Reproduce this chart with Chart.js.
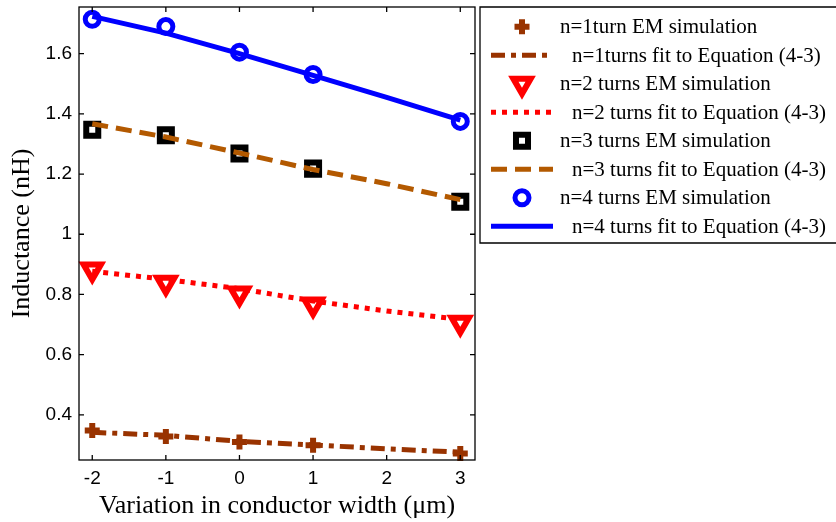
<!DOCTYPE html>
<html>
<head>
<meta charset="utf-8">
<script src="https://cdn.jsdelivr.net/npm/chart.js@4/dist/chart.umd.min.js"></script>
<style>
  html, body { margin: 0; padding: 0; background: #fff; }
</style>
</head>
<body>
<canvas id="chart" width="836" height="522"></canvas>
<script>
// conductor width variation (um)
const simWidths = [-2, -1, 0, 1, 3];
const fitWidths = [-2, -1, 0, 1, 2, 3];

// inductance (nH), EM simulation and fitted curves
const sim1 = [0.348, 0.328, 0.310, 0.299, 0.272];
const fit1 = [0.342, 0.332, 0.312, 0.300, 0.287, 0.276];
const sim2 = [0.883, 0.839, 0.803, 0.767, 0.706];
const fit2 = [0.877, 0.850, 0.819, 0.778, 0.745, 0.717];
const sim3 = [1.347, 1.329, 1.268, 1.218, 1.108];
const fit3 = [1.367, 1.323, 1.270, 1.215, 1.168, 1.115];
const sim4 = [1.714, 1.690, 1.605, 1.531, 1.375];
const fit4 = [1.724, 1.668, 1.600, 1.528, 1.455, 1.379];

const xTicks = [-2, -1, 0, 1, 2, 3];
const yTicks = [0.4, 0.6, 0.8, 1, 1.2, 1.4, 1.6];
const yTickLabels = ['0.4', '0.6', '0.8', '1', '1.2', '1.4', '1.6'];

const legendLabels = [
  'n=1turn EM simulation',
  'n=1turns fit to Equation (4-3)',
  'n=2 turns EM simulation',
  'n=2 turns fit to Equation (4-3)',
  'n=3 turns EM simulation',
  'n=3 turns fit to Equation (4-3)',
  'n=4 turns EM simulation',
  'n=4 turns fit to Equation (4-3)'
];

const BROWN = '#993300';
const ORANGE = '#B35900';
const RED = '#FF0000';
const BLUE = '#0000FF';

function pts(xs, ys) {
  return xs.map((x, i) => ({ x: x, y: ys[i] }));
}

function simSet(label, ys, color, style, radius, width, rotation) {
  return {
    label: label,
    data: pts(simWidths, ys),
    showLine: false,
    pointStyle: style,
    pointRadius: radius,
    pointRotation: rotation || 0,
    pointBorderWidth: width,
    pointBorderColor: color,
    pointBackgroundColor: 'rgba(0,0,0,0)',
    borderColor: color,
    clip: false
  };
}

function fitSet(label, ys, color, dash) {
  return {
    label: label,
    data: pts(fitWidths, ys),
    showLine: true,
    pointRadius: 0,
    borderColor: color,
    borderWidth: 5,
    borderDash: dash,
    borderCapStyle: 'butt',
    tension: 0,
    clip: false
  };
}

const datasets = [
  simSet(legendLabels[0], sim1, BROWN, 'cross', 7.5, 6),
  fitSet(legendLabels[1], fit1, BROWN, [14, 6, 5, 6]),
  simSet(legendLabels[2], sim2, RED, 'triangle', 10, 6, 180),
  fitSet(legendLabels[3], fit2, RED, [5, 6]),
  simSet(legendLabels[4], sim3, '#000000', 'rect', 8.5, 6),
  fitSet(legendLabels[5], fit3, ORANGE, [16, 8]),
  simSet(legendLabels[6], sim4, BLUE, 'circle', 7, 5),
  fitSet(legendLabels[7], fit4, BLUE, [])
];
// later series are painted on top, as in the original figure
datasets.forEach((d, i) => { d.order = datasets.length - i; });

// box round the plot with inward ticks on all four sides
const axesBox = {
  id: 'axesBox',
  afterDatasetsDraw(chart) {
    const { ctx, chartArea: a, scales } = chart;
    ctx.save();
    ctx.strokeStyle = '#000';
    ctx.lineWidth = 1.3;
    ctx.setLineDash([]);
    ctx.strokeRect(a.left, a.top, a.right - a.left, a.bottom - a.top);
    const t = 5;
    ctx.beginPath();
    xTicks.forEach(v => {
      const px = scales.x.getPixelForValue(v);
      ctx.moveTo(px, a.bottom); ctx.lineTo(px, a.bottom - t);
      ctx.moveTo(px, a.top); ctx.lineTo(px, a.top + t);
    });
    yTicks.forEach(v => {
      const py = scales.y.getPixelForValue(v);
      ctx.moveTo(a.left, py); ctx.lineTo(a.left + t, py);
      ctx.moveTo(a.right, py); ctx.lineTo(a.right - t, py);
    });
    ctx.stroke();
    ctx.restore();
  }
};

// legend box to the right of the plot
const sideLegend = {
  id: 'sideLegend',
  afterDraw(chart) {
    const ctx = chart.ctx;
    const boxL = 480, boxT = 7, boxB = 243;
    ctx.save();
    ctx.strokeStyle = '#000';
    ctx.lineWidth = 1.3;
    ctx.beginPath();
    ctx.moveTo(840, boxT); ctx.lineTo(boxL, boxT); ctx.lineTo(boxL, boxB); ctx.lineTo(840, boxB);
    ctx.stroke();

    ctx.font = '21px "Liberation Serif", "Times New Roman", serif';
    ctx.fillStyle = '#000';
    ctx.textBaseline = 'middle';
    ctx.textAlign = 'left';

    chart.data.datasets.forEach((d, i) => {
      const y = 26.7 + i * 28.5;
      if (d.showLine) {
        ctx.save();
        ctx.strokeStyle = d.borderColor;
        ctx.lineWidth = d.borderWidth;
        ctx.lineCap = 'butt';
        ctx.setLineDash(d.borderDash || []);
        ctx.beginPath();
        ctx.moveTo(491, y); ctx.lineTo(553, y);
        ctx.stroke();
        ctx.restore();
        ctx.fillText(d.label, 572, y + 1);
      } else {
        ctx.save();
        ctx.strokeStyle = d.pointBorderColor;
        ctx.fillStyle = d.pointBackgroundColor;
        ctx.lineWidth = d.pointBorderWidth;
        Chart.helpers.drawPoint(ctx, {
          pointStyle: d.pointStyle,
          rotation: d.pointRotation,
          radius: d.pointRadius,
          borderWidth: d.pointBorderWidth
        }, 522, y);
        ctx.restore();
        ctx.fillText(d.label, 560, y + 1);
      }
    });
    ctx.restore();
  }
};

new Chart(document.getElementById('chart'), {
  type: 'scatter',
  data: { datasets: datasets },
  options: {
    responsive: false,
    animation: false,
    devicePixelRatio: 1,
    layout: { autoPadding: false, padding: { left: 0, right: 361, top: 7, bottom: 0 } },
    plugins: {
      legend: { display: false },
      tooltip: { enabled: false }
    },
    scales: {
      x: {
        type: 'linear',
        min: -2.18,
        max: 3.2,
        afterBuildTicks: s => { s.ticks = xTicks.map(v => ({ value: v })); },
        afterFit: s => { s.height = 62; s.paddingLeft = 0; s.paddingRight = 0; },
        grid: { display: false, drawTicks: false },
        border: { display: false },
        ticks: {
          padding: 7,
          color: '#000',
          font: { family: '"Liberation Sans", Arial, sans-serif', size: 19 },
          callback: v => String(v)
        },
        title: {
          display: true,
          text: 'Variation in conductor width (μm)',
          color: '#000',
          font: { family: '"Liberation Serif", "Times New Roman", serif', size: 26 },
          padding: { top: 0, bottom: 0 }
        }
      },
      y: {
        type: 'linear',
        min: 0.25,
        max: 1.755,
        afterBuildTicks: s => { s.ticks = yTicks.map(v => ({ value: v })); },
        afterFit: s => { s.width = 79; s.paddingTop = 0; s.paddingBottom = 0; },
        grid: { display: false, drawTicks: false },
        border: { display: false },
        ticks: {
          padding: 7,
          color: '#000',
          font: { family: '"Liberation Sans", Arial, sans-serif', size: 19 },
          callback: v => yTickLabels[yTicks.indexOf(v)]
        },
        title: {
          display: true,
          text: 'Inductance (nH)',
          color: '#000',
          font: { family: '"Liberation Serif", "Times New Roman", serif', size: 26 },
          padding: { top: 7, bottom: 0 }
        }
      }
    }
  },
  plugins: [axesBox, sideLegend]
});
</script>
</body>
</html>
